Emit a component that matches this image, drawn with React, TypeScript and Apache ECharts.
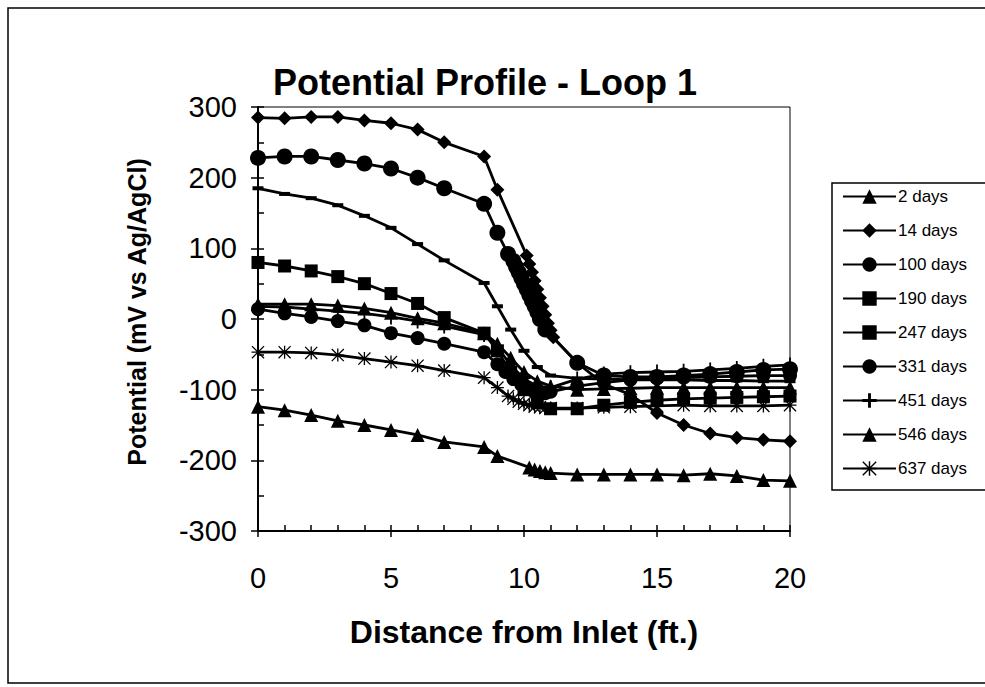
import React, { useEffect, useRef } from "react";
import * as echarts from "echarts";

// ---- Data (distance ft, potential mV vs Ag/AgCl) ----
const X_TAIL = [12, 13, 14, 15, 16, 17, 18, 19, 20];

const d2_x = [0, 1, 2, 3, 4, 5, 6, 7, 8.5, 9, 9.5, 10, 10.5, 11, ...X_TAIL];
const d2_y = [21, 21, 21, 19, 15, 9, 1, -6, -20, -35, -55, -75, -88, -95, -100, -99, -98, -97, -97, -97, -97, -97, -97];

const d14_x = [0, 1, 2, 3, 4, 5, 6, 7, 8.5, 9, 10.1, 10.2, 10.3, 10.4, 10.5, 10.6, 10.7, 10.8, 10.9, 11, 11.1, ...X_TAIL];
const d14_y = [285, 284, 286, 286, 281, 277, 268, 250, 230, 183, 90, 78, 66, 54, 42, 30, 18, 6, -6, -16, -26, -62, -92, -107, -133, -150, -162, -168, -171, -173];

const d100_x = [0, 1, 2, 3, 4, 5, 6, 7, 8.5, 9, 9.4, 9.6, 9.7, 9.8, 9.9, 10, 10.1, 10.2, 10.3, 10.4, 10.5, 10.6, 10.8, ...X_TAIL];
const d100_y = [228, 230, 230, 225, 220, 213, 200, 185, 163, 122, 92, 82, 74, 66, 58, 50, 42, 34, 26, 18, 10, 0, -15, -62, -80, -82, -82, -80, -78, -75, -72, -71];

const d190_x = [0, 1, 2, 3, 4, 5, 6, 7, 8.5, 9, 9.5, 10, 10.5, 11, ...X_TAIL];
const d190_y = [185, 177, 171, 161, 146, 129, 106, 83, 51, 18, -15, -45, -68, -80, -84, -85, -86, -86, -86, -87, -87, -88, -88];

const d247_x = [0, 1, 2, 3, 4, 5, 6, 7, 8.5, 9, 9.5, 10, 10.5, 11, ...X_TAIL];
const d247_y = [80, 75, 68, 60, 50, 36, 22, 2, -20, -45, -75, -100, -118, -127, -127, -122, -118, -115, -113, -112, -111, -110, -109];

const d331_x = [0, 1, 2, 3, 4, 5, 6, 7, 8.5, 9, 9.3, 9.6, 9.9, 10.2, 10.5, 10.8, 11, ...X_TAIL];
const d331_y = [14, 8, 3, -3, -9, -20, -27, -35, -47, -64, -75, -85, -93, -99, -103, -105, -103, -95, -90, -86, -84, -83, -82, -81, -80, -80];

const d451_x = [0, 1, 2, 3, 4, 5, 6, 7, 8.5, 9, 9.5, 10, 10.5, 11, ...X_TAIL];
const d451_y = [18, 17, 14, 11, 8, 3, -3, -10, -22, -40, -65, -85, -95, -97, -85, -78, -76, -75, -74, -72, -70, -67, -65];

const d546_x = [0, 1, 2, 3, 4, 5, 6, 7, 8.5, 9, 10.2, 10.4, 10.6, 10.8, 11, ...X_TAIL];
const d546_y = [-124, -129, -136, -144, -150, -157, -164, -174, -181, -194, -210, -213, -215, -217, -218, -220, -220, -220, -220, -221, -219, -222, -228, -229];

const d637_x = [0, 1, 2, 3, 4, 5, 6, 7, 8.5, 9, 9.4, 9.6, 9.8, 10, 10.2, 10.4, 10.6, 10.8, 11, ...X_TAIL];
const d637_y = [-47, -47, -48, -51, -56, -61, -66, -73, -83, -97, -109, -113, -117, -120, -122, -124, -125, -126, -126, -126, -125, -124, -123, -122, -123, -123, -123, -122];

const SERIES_NAMES = ["2 days", "14 days", "100 days", "190 days", "247 days", "331 days", "451 days", "546 days", "637 days"];

const X_TICK_LABELS = [0, 5, 10, 15, 20];
const Y_TICK_LABELS = [-300, -200, -100, 0, 100, 200, 300];

const PLUS = "path://M4,0h2v4h4v2h-4v4h-2v-4h-4v-2h4z";
const STAR =
  "path://M9,0h2v20h-2z M0,9h20v2h-20z M1.4,0L20,18.6L18.6,20L0,1.4z M18.6,0L20,1.4L1.4,20L0,18.6z";

const FONT = "'Liberation Sans', Arial, Helvetica, sans-serif";

function zip(xs: number[], ys: number[]) {
  return xs.map((x, i) => [x, ys[i]]);
}

export default function App() {
  const ref = useRef<HTMLDivElement>(null);
  useEffect(() => {
    if (!ref.current) return;
    const chart = echarts.init(ref.current, undefined, { renderer: "svg" });

    const defs: { xs: number[]; ys: number[]; symbol: string; size: any }[] = [
      { xs: d2_x, ys: d2_y, symbol: "triangle", size: 14 },
      { xs: d14_x, ys: d14_y, symbol: "diamond", size: 14 },
      { xs: d100_x, ys: d100_y, symbol: "circle", size: 16 },
      { xs: d190_x, ys: d190_y, symbol: "rect", size: [11, 4] },
      { xs: d247_x, ys: d247_y, symbol: "rect", size: 13 },
      { xs: d331_x, ys: d331_y, symbol: "circle", size: 14 },
      { xs: d451_x, ys: d451_y, symbol: PLUS, size: [9, 15] },
      { xs: d546_x, ys: d546_y, symbol: "triangle", size: 14 },
      { xs: d637_x, ys: d637_y, symbol: STAR, size: 13 },
    ];

    const series = defs.map((d, i) => ({
      name: SERIES_NAMES[i],
      type: "line",
      xAxisIndex: 0,
      yAxisIndex: 0,
      data: zip(d.xs, d.ys),
      symbol: d.symbol,
      symbolSize: d.size,
      showSymbol: true,
      lineStyle: { color: "#000", width: 2.8 },
      itemStyle: { color: "#000", borderWidth: 0 },
      emphasis: { disabled: true },
    }));

    const axisLabelCommon = { color: "#000", fontFamily: FONT, fontSize: 29 };

    chart.setOption({
      animation: false,
      backgroundColor: "#fff",
      grid: {
        left: 258,
        top: 107,
        width: 532,
        height: 424,
        show: true,
        borderColor: "#000",
        borderWidth: 1,
        backgroundColor: "transparent",
      },
      legend: {
        orient: "vertical",
        left: 842,
        top: 188,
        padding: 0,
        itemWidth: 53,
        itemHeight: 18,
        itemGap: 17,
        data: SERIES_NAMES,
        textStyle: { color: "#000", fontFamily: FONT, fontSize: 17, padding: [0, 0, 0, -3] },
        selectedMode: false,
      },
      xAxis: [
        {
          type: "value",
          min: 0,
          max: 20,
          interval: 1,
          axisLine: { show: true, onZero: false, lineStyle: { color: "#000", width: 2 } },
          axisTick: { show: true, inside: true, length: 6, lineStyle: { color: "#000", width: 1.5 } },
          axisLabel: {
            ...axisLabelCommon,
            margin: 32,
            formatter: (v: number) => (X_TICK_LABELS.includes(v) ? String(v) : ""),
          },
          splitLine: { show: false },
        },
        {
          type: "value",
          min: 0,
          max: 20,
          interval: 5,
          position: "bottom",
          axisLine: { show: false, onZero: false },
          axisTick: { show: true, inside: false, length: 6, lineStyle: { color: "#000", width: 1.5 } },
          axisLabel: { show: false },
          splitLine: { show: false },
        },
      ],
      yAxis: [
        {
          type: "value",
          min: -300,
          max: 300,
          interval: 50,
          axisLine: { show: true, onZero: false, lineStyle: { color: "#000", width: 2 } },
          axisTick: { show: true, inside: true, length: 6, lineStyle: { color: "#000", width: 1.5 } },
          axisLabel: {
            ...axisLabelCommon,
            margin: 21,
            formatter: (v: number) => (Y_TICK_LABELS.includes(v) ? String(v) : ""),
          },
          splitLine: { show: false },
        },
        {
          type: "value",
          min: -300,
          max: 300,
          interval: 100,
          position: "left",
          axisLine: { show: false, onZero: false },
          axisTick: { show: true, inside: false, length: 7, lineStyle: { color: "#000", width: 1.5 } },
          axisLabel: { show: false },
          splitLine: { show: false },
        },
      ],
      graphic: [
        {
          type: "rect",
          shape: { x: 8, y: 8, width: 985, height: 675 },
          style: { fill: "none", stroke: "#000", lineWidth: 1.5 },
          silent: true,
        },
        {
          type: "rect",
          shape: { x: 832, y: 183, width: 200, height: 307 },
          style: { fill: "none", stroke: "#000", lineWidth: 1.5 },
          silent: true,
        },
        {
          type: "text",
          x: 485,
          y: 82,
          style: {
            text: "Potential Profile - Loop 1",
            font: `bold 36px ${FONT}`,
            fill: "#000",
            align: "center",
            verticalAlign: "middle",
          },
        },
        {
          type: "text",
          x: 137,
          y: 312,
          rotation: Math.PI / 2,
          style: {
            text: "Potential (mV vs Ag/AgCl)",
            font: `bold 25px ${FONT}`,
            fill: "#000",
            align: "center",
            verticalAlign: "middle",
          },
        },
        {
          type: "text",
          x: 524,
          y: 632,
          style: {
            text: "Distance from Inlet (ft.)",
            font: `bold 32px ${FONT}`,
            fill: "#000",
            align: "center",
            verticalAlign: "middle",
          },
        },
      ],
      series,
    });

    return () => chart.dispose();
  }, []);

  return (
    <div
      ref={ref}
      style={{ position: "fixed", left: 0, top: 0, width: 985, height: 687, background: "#fff" }}
    />
  );
}
